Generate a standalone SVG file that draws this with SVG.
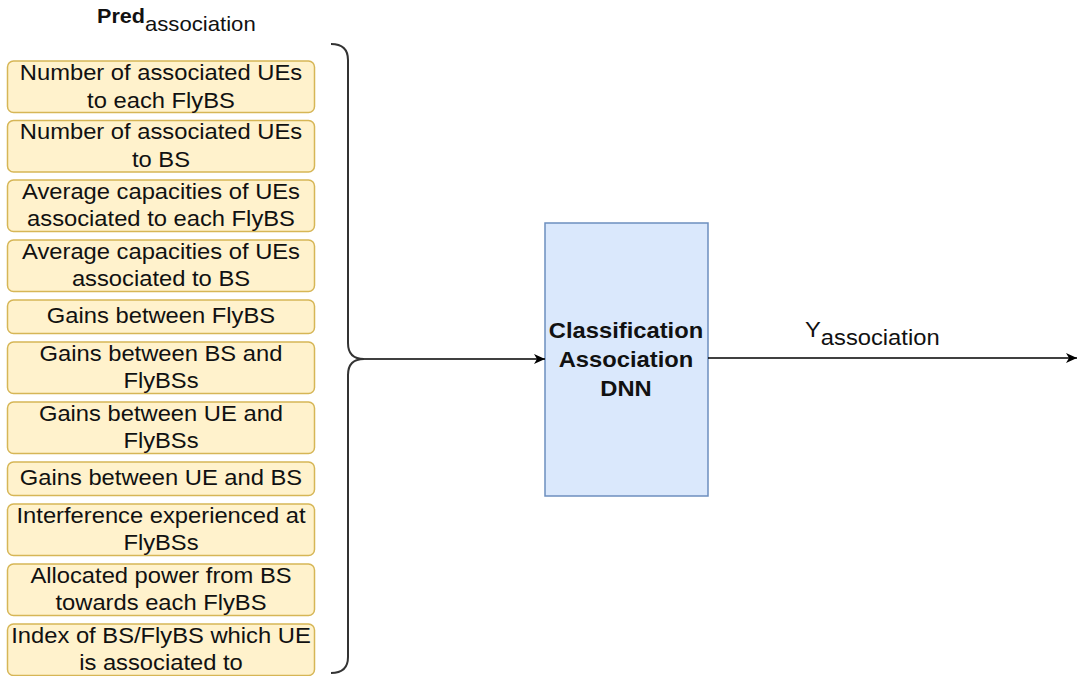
<svg xmlns="http://www.w3.org/2000/svg" width="1078" height="676" viewBox="0 0 1078 676">
  <style>
    .feat rect { fill: #fff2cc; stroke: #d6b656; stroke-width: 1.5; }
    .feat text, .dnn text { font-family: "Liberation Sans", Arial, sans-serif; font-size: 22px; fill: #111; text-anchor: middle; }
    .dnn rect { fill: #dae8fc; stroke: #6c8ebf; stroke-width: 1.5; }
    .dnn text { font-weight: bold; }
    .lbl { font-family: "Liberation Sans", Arial, sans-serif; fill: #111; }
    .edge { fill: none; stroke: #000; stroke-width: 1.6; }
    .brace { fill: none; stroke: #333; stroke-width: 2; }
  </style>
  <defs>
    <marker id="arrow" markerUnits="userSpaceOnUse" markerWidth="14" markerHeight="12" refX="11" refY="5" orient="auto">
      <path d="M0,0 L11,5 L0,10 L3,5 Z" fill="#000"/>
    </marker>
  </defs>

  <!-- input feature list title -->
  <g id="title-pred">
    <text class="lbl" x="97" y="23" font-size="20" font-weight="bold" transform="matrix(1.08 0 0 1 -7.76 0)">Pred<tspan font-weight="normal" font-size="20.5" dy="8">association</tspan></text>
  </g>

  <!-- feature boxes (text columns centred on x=161, widened slightly) -->
  <g id="feat-1" class="feat">
    <rect x="7.5" y="61" width="307" height="51.5" rx="6"/>
    <text transform="matrix(1.08 0 0 1 -12.88 0)"><tspan x="161" y="80">Number of associated UEs</tspan><tspan x="161" y="108">to each FlyBS</tspan></text>
  </g>
  <g id="feat-2" class="feat">
    <rect x="7.5" y="120.5" width="307" height="51.5" rx="6"/>
    <text transform="matrix(1.08 0 0 1 -12.88 0)"><tspan x="161" y="139.5">Number of associated UEs</tspan><tspan x="161" y="167">to BS</tspan></text>
  </g>
  <g id="feat-3" class="feat">
    <rect x="7.5" y="180" width="307" height="51.5" rx="6"/>
    <text transform="matrix(1.08 0 0 1 -12.88 0)"><tspan x="161" y="199">Average capacities of UEs</tspan><tspan x="161" y="226.5">associated to each FlyBS</tspan></text>
  </g>
  <g id="feat-4" class="feat">
    <rect x="7.5" y="240" width="307" height="51.5" rx="6"/>
    <text transform="matrix(1.08 0 0 1 -12.88 0)"><tspan x="161" y="259">Average capacities of UEs</tspan><tspan x="161" y="286.5">associated to BS</tspan></text>
  </g>
  <g id="feat-5" class="feat">
    <rect x="7.5" y="300" width="307" height="33.5" rx="6"/>
    <text transform="matrix(1.08 0 0 1 -12.88 0)" x="161" y="323.5">Gains between FlyBS</text>
  </g>
  <g id="feat-6" class="feat">
    <rect x="7.5" y="342" width="307" height="51.5" rx="6"/>
    <text transform="matrix(1.08 0 0 1 -12.88 0)"><tspan x="161" y="361">Gains between BS and</tspan><tspan x="161" y="388.5">FlyBSs</tspan></text>
  </g>
  <g id="feat-7" class="feat">
    <rect x="7.5" y="402" width="307" height="51.5" rx="6"/>
    <text transform="matrix(1.08 0 0 1 -12.88 0)"><tspan x="161" y="421">Gains between UE and</tspan><tspan x="161" y="448.5">FlyBSs</tspan></text>
  </g>
  <g id="feat-8" class="feat">
    <rect x="7.5" y="462" width="307" height="33.5" rx="6"/>
    <text transform="matrix(1.08 0 0 1 -12.88 0)" x="161" y="485.5">Gains between UE and BS</text>
  </g>
  <g id="feat-9" class="feat">
    <rect x="7.5" y="504" width="307" height="51.5" rx="6"/>
    <text transform="matrix(1.08 0 0 1 -12.88 0)"><tspan x="161" y="523">Interference experienced at</tspan><tspan x="161" y="550.5">FlyBSs</tspan></text>
  </g>
  <g id="feat-10" class="feat">
    <rect x="7.5" y="564" width="307" height="51.5" rx="6"/>
    <text transform="matrix(1.08 0 0 1 -12.88 0)"><tspan x="161" y="583">Allocated power from BS</tspan><tspan x="161" y="610.5">towards each FlyBS</tspan></text>
  </g>
  <g id="feat-11" class="feat">
    <rect x="7.5" y="624" width="307" height="51.5" rx="6"/>
    <text transform="matrix(1.08 0 0 1 -12.88 0)"><tspan x="161" y="643">Index of BS/FlyBS which UE</tspan><tspan x="161" y="670.5">is associated to</tspan></text>
  </g>

  <!-- grouping brace -->
  <g id="brace">
    <path class="brace" d="M331,44 Q348,44 348,60 L348,343 Q348,359 364,359 Q348,359 348,375 L348,657 Q348,673 331,673"/>
  </g>

  <!-- classifier -->
  <g id="dnn" class="dnn">
    <rect x="545" y="223" width="163" height="273"/>
    <text transform="matrix(1.08 0 0 1 -50.08 0)"><tspan x="626" y="338">Classification</tspan><tspan x="626" y="367">Association</tspan><tspan x="626" y="396">DNN</tspan></text>
  </g>

  <!-- connectors -->
  <g id="connectors">
    <path class="edge" d="M364,359 L545,359" marker-end="url(#arrow)"/>
    <path class="edge" d="M708,358 L1077,358" marker-end="url(#arrow)"/>
    <text class="lbl" x="805" y="337.5" font-size="22" transform="matrix(1.08 0 0 1 -64.4 0)">Y<tspan font-size="22" dy="7.5">association</tspan></text>
  </g>
</svg>
